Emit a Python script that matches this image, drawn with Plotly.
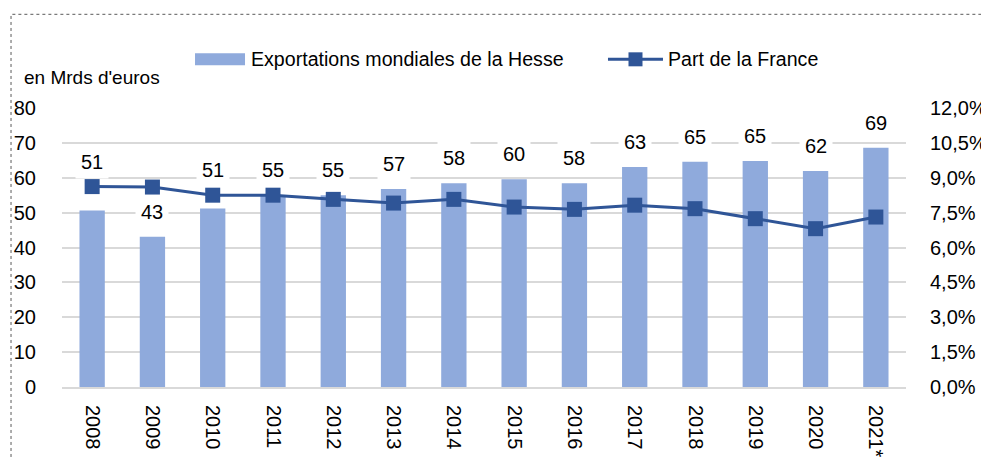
import plotly.graph_objects as go

years = ["2008", "2009", "2010", "2011", "2012", "2013", "2014", "2015",
         "2016", "2017", "2018", "2019", "2020", "2021*"]
exports_bn_eur = [50.6, 43.1, 51.2, 55.0, 55.0, 56.8, 58.4, 59.6,
                  58.4, 63.1, 64.6, 64.8, 61.9, 68.6]
france_share = [0.0862, 0.0860, 0.0825, 0.0825, 0.0807, 0.0791, 0.0807, 0.0774,
                0.0764, 0.0782, 0.0767, 0.0724, 0.0681, 0.0731]
left_ticks = list(range(0, 81, 10))
right_ticks = [0.0, 0.015, 0.03, 0.045, 0.06, 0.075, 0.09, 0.105, 0.12]

BAR_COLOR = "#8FAADC"
LINE_COLOR = "#2F5597"
GRID = "#D9D9D9"
FONT = "Liberation Sans, Arial, sans-serif"
FS = 20

Y1_MAX, Y2_MAX = 80, 0.12

fig = go.Figure()
fig.add_trace(go.Bar(
    x=years, y=exports_bn_eur, name="Exportations mondiales de la Hesse",
    marker=dict(color=BAR_COLOR, line=dict(width=0)), yaxis="y", showlegend=False,
))
fig.add_trace(go.Scatter(
    x=years, y=france_share, name="Part de la France", yaxis="y2",
    mode="lines+markers", line=dict(color=LINE_COLOR, width=3),
    marker=dict(symbol="square", size=15, color=LINE_COLOR), showlegend=False,
))

# data labels for the bars (lifted above the line marker when they would collide)
annotations = []
for i, (v, s) in enumerate(zip(exports_bn_eur, france_share)):
    line_in_left = s * Y1_MAX / Y2_MAX
    if abs((v + 7.2) - line_in_left) < 5:
        ref, yy = "y2", s
    else:
        ref, yy = "y", v
    annotations.append(dict(
        x=i, y=yy, xref="x", yref=ref, text=f"{v:.0f}", showarrow=False,
        yshift=25, yanchor="middle", bgcolor="white", borderpad=5,
        font=dict(family=FONT, size=FS, color="black"),
    ))

# axis title
annotations.append(dict(
    x=-0.047, y=1.110, xref="paper", yref="paper", xanchor="left", yanchor="middle",
    text="en Mrds d'euros", showarrow=False,
    font=dict(family=FONT, size=FS - 1, color="black"),
))

# custom legend
annotations.append(dict(
    x=0.2215, y=1.1745, xref="paper", yref="paper", xanchor="left", yanchor="middle",
    text="Exportations mondiales de la Hesse", showarrow=False,
    font=dict(family=FONT, size=FS - 0.4, color="black"),
))
annotations.append(dict(
    x=0.716, y=1.1745, xref="paper", yref="paper", xanchor="left", yanchor="middle",
    text="Part de la France", showarrow=False,
    font=dict(family=FONT, size=FS - 0.4, color="black"),
))

shapes = [
    # bar swatch
    dict(type="rect", xref="paper", yref="paper", xsizemode="pixel", ysizemode="pixel",
         xanchor=0.1576, yanchor=1.1745, x0=0, x1=50, y0=-6, y1=6,
         fillcolor=BAR_COLOR, line=dict(width=0)),
    # line swatch
    dict(type="line", xref="paper", yref="paper", xsizemode="pixel", ysizemode="pixel",
         xanchor=0.6469, yanchor=1.1745, x0=0, x1=55, y0=0, y1=0,
         line=dict(color=LINE_COLOR, width=3)),
    dict(type="rect", xref="paper", yref="paper", xsizemode="pixel", ysizemode="pixel",
         xanchor=0.6795, yanchor=1.1745, x0=-7, x1=7, y0=-7, y1=7,
         fillcolor=LINE_COLOR, line=dict(width=0)),
    # dotted chart border
    dict(type="rect", xref="paper", yref="paper", x0=-0.0604, x1=1.0936, y0=-0.30, y1=1.3358,
         line=dict(color="#595959", width=1, dash="dot"), fillcolor="rgba(0,0,0,0)", layer="below"),
]

fig.update_layout(
    width=981, height=460,
    margin=dict(l=62, r=75, t=108, b=73, autoexpand=False),
    paper_bgcolor="white", plot_bgcolor="white",
    separators=", ",
    bargap=0.58,
    font=dict(family=FONT, size=FS, color="black"),
    xaxis=dict(
        type="category", range=[-0.5, len(years) - 0.5], autorange=False,
        tickangle=90, showgrid=False, automargin=False,
        showline=True, linecolor=GRID, linewidth=2,
        ticks="", ticklabelstandoff=12,
        tickfont=dict(family=FONT, size=FS, color="black"),
    ),
    yaxis=dict(
        range=[0, Y1_MAX], autorange=False, tickvals=left_ticks, showgrid=True,
        gridcolor=GRID, gridwidth=2, automargin=False,
        zeroline=False, showline=False,
        ticks="outside", ticklen=21, tickcolor="rgba(0,0,0,0)",
        tickfont=dict(family=FONT, size=FS, color="black"),
    ),
    yaxis2=dict(
        range=[0, Y2_MAX], autorange=False, tickvals=right_ticks, tickformat=".1%",
        overlaying="y", side="right", automargin=False,
        showgrid=False, zeroline=False, showline=False,
        ticks="outside", ticklen=19, tickcolor="rgba(0,0,0,0)",
        tickfont=dict(family=FONT, size=FS, color="black"),
    ),
    annotations=annotations,
    shapes=shapes,
)

fig.write_html(
    "out.html",
    config={"displayModeBar": False},
    post_script="document.body.style.margin='0';document.body.style.overflow='hidden';",
)
